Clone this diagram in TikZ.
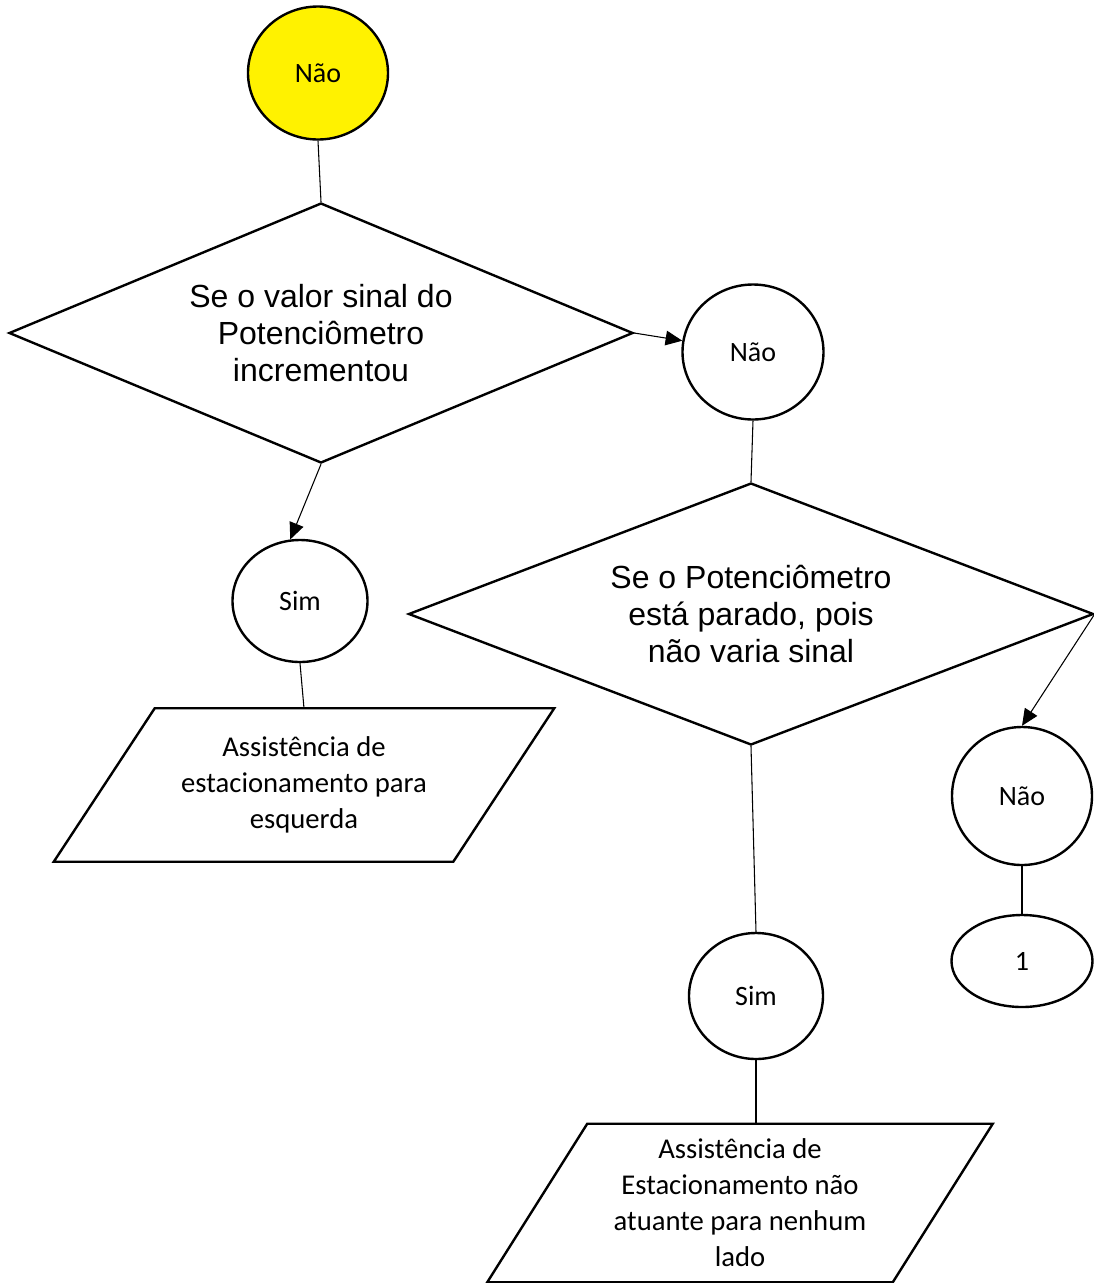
\documentclass[tikz,border=0pt]{standalone}
\usepackage{fontspec}
\setmainfont{Carlito}
\newfontfamily\arialfont{Liberation Sans}
\usetikzlibrary{calc,shapes.geometric,arrows.meta}
\newcommand{\pxu}{0.75pt}
\newcommand{\slantbox}[2]{\draw[line width=1.8pt] ($(#1.north west)+(#2,0)$) -- ($(#1.north east)+(#2,0)$)
	-- ($(#1.south east)-(#2,0)$) -- ($(#1.south west)-(#2,0)$) -- cycle;}

\begin{document}
\begin{tikzpicture}[x=0.75pt, y=-0.75pt,
		terminal/.style={ellipse, draw, line width=1.8pt, inner sep=0pt,
			font=\fontsize{21pt}{26pt}\selectfont},
		decision/.style={diamond, draw, line width=1.8pt, inner sep=0pt, shape aspect=2.5,
			align=center, font=\arialfont\fontsize{24pt}{27.75pt}\selectfont},
		inout/.style={rectangle, inner sep=0pt, align=center, font=\fontsize{21.5pt}{27pt}\selectfont},
		link/.style={line width=0.8pt},
		arrow/.style={link, -{Triangle[length=12.5pt, width=11pt]}}]
		%%%%% START %%%%%
		
		\useasboundingbox (0, 0) rectangle (1094, 1283);
		
		\node[terminal, fill=yellow, minimum width=140*\pxu, minimum height=133*\pxu] (start) at (318, 73) {Não};
		
		\node[decision, minimum width=624*\pxu, minimum height=260*\pxu] (incr) at (321, 333)
			{Se o valor sinal do\\Potenciômetro\\incrementou};
		
		\node[terminal, minimum width=141*\pxu, minimum height=135*\pxu] (incrno) at (753, 352) {Não};
		\node[terminal, minimum width=135*\pxu, minimum height=122*\pxu] (incrsim) at (300, 601) {Sim};
		
		\node[inout, minimum width=399*\pxu, minimum height=153*\pxu] (left) at (304, 785)
			{Assistência de\\estacionamento para\\esquerda};
		\slantbox{left}{50.5}
		
		\node[decision, minimum width=685*\pxu, minimum height=262*\pxu] (stop) at (751, 614)
			{Se o Potenciômetro\\está parado, pois\\não varia sinal};
		
		\node[terminal, minimum width=140*\pxu, minimum height=138*\pxu] (stopno) at (1022, 796) {Não};
		\node[terminal, minimum width=141*\pxu, minimum height=92*\pxu] (one) at (1022, 961) {1};
		
		\node[terminal, minimum width=134*\pxu, minimum height=126*\pxu] (stopsim) at (756, 996) {Sim};
		
		\node[inout, minimum width=405*\pxu, minimum height=158*\pxu] (none) at (740, 1203)
			{Assistência de\\Estacionamento não\\atuante para nenhum\\lado};
		\slantbox{none}{50}
		
		\draw[link] (start.south) -- (incr.north);
		\draw[arrow] (incr.east) -- (incrno);
		\draw[arrow] (incr.south) -- (incrsim.99);
		\draw[link] (incrsim.south) -- (left.north);
		
		\draw[link] (incrno.south) -- (stop.north);
		\draw[arrow] (stop.east) -- (stopno.north);
		\draw[link] (stopno.south) -- (one.north);
		\draw[link] (stop.south) -- (stopsim.north);
		\draw[link] (stopsim.south) -- (stopsim.south |- none.north);
		
		%%%%% END %%%%%
	\end{tikzpicture}
\end{document}
